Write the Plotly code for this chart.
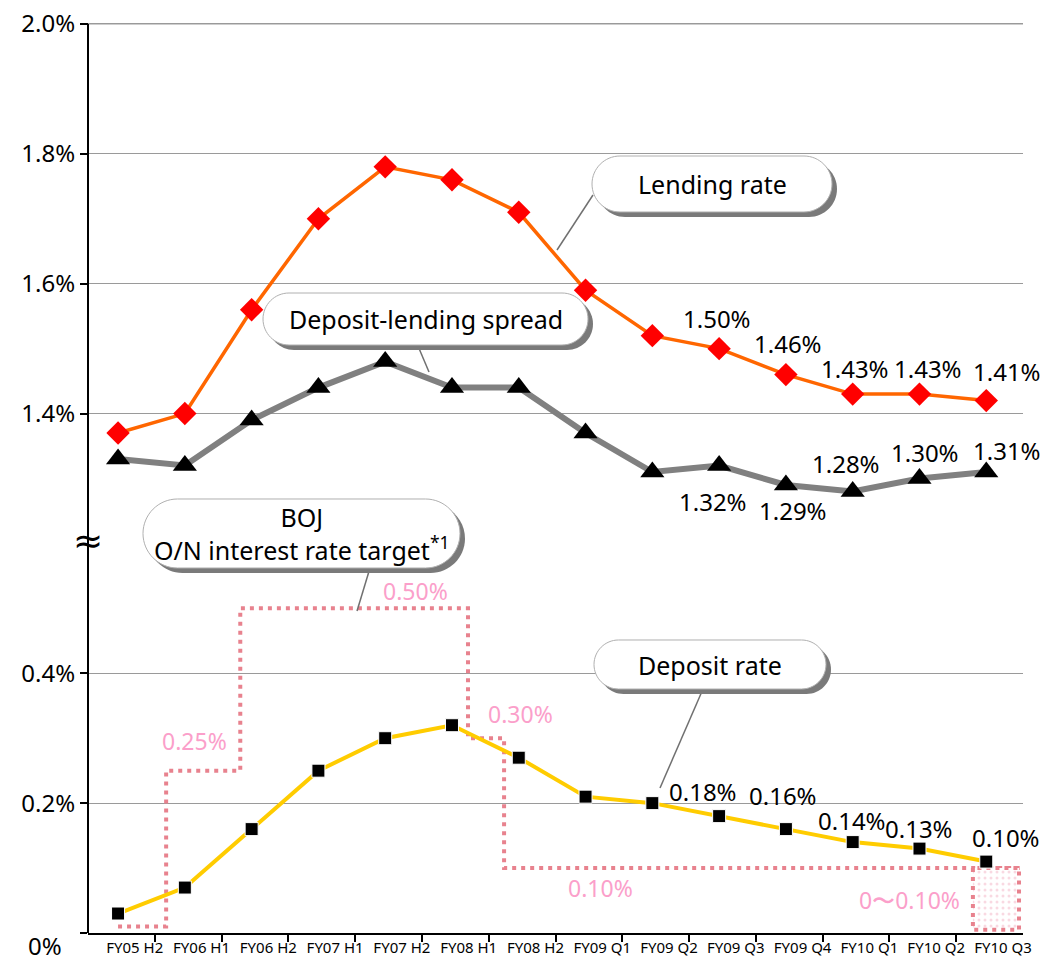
import plotly.graph_objects as go

# ---- data -------------------------------------------------------------
periods = ["FY05 H2", "FY06 H1", "FY06 H2", "FY07 H1", "FY07 H2", "FY08 H1", "FY08 H2",
           "FY09 Q1", "FY09 Q2", "FY09 Q3", "FY09 Q4", "FY10 Q1", "FY10 Q2", "FY10 Q3"]
lending = [1.37, 1.40, 1.56, 1.70, 1.78, 1.76, 1.71, 1.59, 1.52, 1.50, 1.46, 1.43, 1.43, 1.42]
spread = [1.33, 1.32, 1.39, 1.44, 1.48, 1.44, 1.44, 1.37, 1.31, 1.32, 1.29, 1.28, 1.30, 1.31]
deposit = [0.03, 0.07, 0.16, 0.25, 0.30, 0.32, 0.27, 0.21, 0.20, 0.18, 0.16, 0.14, 0.13, 0.11]

lending_labels = ["", "", "", "", "", "", "", "", "", "1.50%", "1.46%", "1.43%", "1.43%", "1.41%"]
spread_labels = ["", "", "", "", "", "", "", "", "", "1.32%", "1.29%", "1.28%", "1.30%", "1.31%"]
deposit_labels = ["", "", "", "", "", "", "", "", "", "0.18%", "0.16%", "0.14%", "0.13%", "0.10%"]

# BOJ overnight target: step change points (in period units) and levels
boj_change = [0.0, 0.72, 1.83, 5.24, 5.78, 13.5]
boj_rate = [0.01, 0.25, 0.50, 0.30, 0.10, 0.10]
boj_zero_span = [12.8, 13.49]
boj_zero_range = [0.005, 0.10]

ytick_vals = [0.0, 0.2, 0.4, 1.4, 1.6, 1.8, 2.0]

# axis break: values above the break are drawn shifted down by BREAK
BREAK = 0.6
Y_TOP = 1.42  # a little headroom so the 2.0% tick is inside the range

# ---- styling ----------------------------------------------------------
FONT = "Noto Sans"
ORANGE = "#ff6600"
RED = "#ff0000"
GREY = "#808080"
GOLD = "#ffcc00"
GRID = "#9a9a9a"
PINK_LINE = "#e8828e"
PINK_TEXT = "#fb9fca"

# plot area in page pixels; the page body adds an 8px offset
OFF = 8
PL, PR, PT, PB = 88, 1023, 11, 933
W, H = 1050 - OFF, 961 - OFF


def fx(px):
    return (px - PL) / (PR - PL)


def fy(py):
    return (PB - py) / (PB - PT)


def shifted(vals):
    return [round(v - BREAK, 6) for v in vals]


def pill_path(x0, y0, x1, y1):
    r = (y1 - y0) / 2
    k = 0.5523 * r
    pts = [
        ("M", [(x0 + r, y0)]),
        ("L", [(x1 - r, y0)]),
        ("C", [(x1 - r + k, y0), (x1, y0 + r - k), (x1, y0 + r)]),
        ("C", [(x1, y0 + r + k), (x1 - r + k, y1), (x1 - r, y1)]),
        ("L", [(x0 + r, y1)]),
        ("C", [(x0 + r - k, y1), (x0, y0 + r + k), (x0, y0 + r)]),
        ("C", [(x0, y0 + r - k), (x0 + r - k, y0), (x0 + r, y0)]),
    ]
    s = ""
    for cmd, ps in pts:
        s += cmd + " ".join(f"{fx(px):.5f},{fy(py):.5f}" for px, py in ps)
    return s + "Z"


def paper_text(text, px, py, size=24, color="black", family=FONT):
    return dict(x=fx(px), y=fy(py), xref="paper", yref="paper", text=text,
                showarrow=False, xanchor="center", yanchor="middle",
                font=dict(size=size, color=color, family=family))


fig = go.Figure()

# BOJ target (dotted step line)
fig.add_trace(go.Scatter(
    x=boj_change, y=boj_rate, mode="lines", line_shape="hv",
    line=dict(color=PINK_LINE, width=4, dash="4px,5px"), hoverinfo="skip"))
zx0, zx1 = boj_zero_span
zy0, zy1 = boj_zero_range
fig.add_trace(go.Scatter(
    x=[zx0, zx0, zx1, zx1, zx0], y=[zy1, zy0, zy0, zy1, zy1], mode="lines",
    fill="toself", fillcolor="rgba(0,0,0,0)",
    fillpattern=dict(shape=".", fgcolor="#f4b3c6", bgcolor="white", size=6, solidity=0.2),
    line=dict(color=PINK_LINE, width=4, dash="4px,5px"), hoverinfo="skip"))

x = list(range(len(periods)))

fig.add_trace(go.Scatter(
    x=x, y=shifted(spread), mode="lines+markers",
    line=dict(color=GREY, width=6),
    marker=dict(symbol="triangle-up", size=21, color="black")))
fig.add_trace(go.Scatter(
    x=x, y=shifted(lending), mode="lines+markers",
    line=dict(color=ORANGE, width=3.5),
    marker=dict(symbol="diamond", size=18, color=RED)))
fig.add_trace(go.Scatter(
    x=x, y=deposit, mode="lines+markers",
    line=dict(color=GOLD, width=4),
    marker=dict(symbol="square", size=13, color="black", line=dict(color="white", width=1))))

annotations = []

# data labels (pixel offsets from each marker)
lend_off = [(0, 0)] * 9 + [(-2, 30), (2, 31), (2, 26), (9, 26), (21, 29)]
spr_off = [(0, 0)] * 9 + [(-6, -36), (7, -26), (-7, 28), (6, 26), (21, 22)]
dep_off = [(0, 0)] * 9 + [(-16, 25), (-3, 34), (-1, 22), (0, 20), (20, 24)]
for vals, labels, offs, sh in [(lending, lending_labels, lend_off, BREAK),
                               (spread, spread_labels, spr_off, BREAK),
                               (deposit, deposit_labels, dep_off, 0)]:
    for i, (v, t, (dx, dy)) in enumerate(zip(vals, labels, offs)):
        if not t:
            continue
        annotations.append(dict(
            x=i, y=v - sh, xref="x", yref="y", text=t, showarrow=False,
            xanchor="center", yanchor="middle",
            xshift=dx, yshift=dy, font=dict(size=24, color="black", family=FONT)))

# BOJ level labels
for t, px, py in [("0.25%", 194, 741), ("0.50%", 415, 591), ("0.30%", 520, 714),
                  ("0.10%", 600, 888), ("0〜0.10%", 909, 900)]:
    annotations.append(paper_text(t, px, py, size=23, color=PINK_TEXT))

# 0% label and axis break symbol
annotations.append(paper_text("0%", 45, 945))
annotations.append(paper_text("≈", 88, 540, size=36, family="DejaVu Sans"))

# callouts: (text, x0, y0, x1, y1, pointer from, pointer to)
callouts = [
    ("Lending rate", 592, 156, 832, 212, (593, 195), (557, 250)),
    ("Deposit-lending spread", 263, 293, 588, 345, (418, 346), (429, 372)),
    ("BOJ<br>O/N interest rate target<sup>*1</sup>", 143, 499, 460, 568, (370, 568), (357, 611)),
    ("Deposit rate", 594, 640, 826, 689, (703, 689), (660, 788)),
]
top = round(ytick_vals[-1] - BREAK, 6)
shapes = [
    # top gridline, tick and y axis line, stopping at the 2.0% tick
    dict(type="line", xref="paper", yref="y", x0=0, x1=1, y0=top, y1=top,
         line=dict(color=GRID, width=1), layer="below"),
    dict(type="line", xref="paper", yref="y", x0=fx(81), x1=0, y0=top, y1=top,
         line=dict(color="black", width=2)),
    dict(type="line", xref="paper", yref="y", x0=0, x1=0, y0=0, y1=top,
         line=dict(color="black", width=2)),
]
for text, x0, y0, x1, y1, p0, p1 in callouts:
    shapes.append(dict(type="line", xref="paper", yref="paper",
                       x0=fx(p0[0]), y0=fy(p0[1]), x1=fx(p1[0]), y1=fy(p1[1]),
                       line=dict(color="#707070", width=1.5)))
    shapes.append(dict(type="path", xref="paper", yref="paper",
                       path=pill_path(x0 + 5, y0 + 5, x1 + 5, y1 + 5),
                       fillcolor="#7a7a7a", line=dict(width=0)))
    shapes.append(dict(type="path", xref="paper", yref="paper",
                       path=pill_path(x0, y0, x1, y1),
                       fillcolor="white", line=dict(color="#b0b0b0", width=1)))
    annotations.append(paper_text(text, (x0 + x1) / 2, (y0 + y1) / 2, size=25))

fig.update_layout(
    width=W, height=H,
    margin=dict(l=PL - OFF, r=W - (PR - OFF), t=PT - OFF, b=H - (PB - OFF)),
    paper_bgcolor="white", plot_bgcolor="white",
    font=dict(family=FONT, color="black"),
    showlegend=False,
    shapes=shapes,
    annotations=annotations,
    xaxis=dict(
        range=[-0.45, 13.55], showgrid=False, zeroline=False, automargin=False,
        tickvals=[i + 0.25 for i in x], ticktext=periods, ticks="",
        tickfont=dict(size=15, color="black", family=FONT),
        showline=True, linecolor="black", linewidth=2,
        minor=dict(tickvals=[i + 0.55 for i in x[:-1]], ticks="outside",
                   ticklen=7, tickcolor="black", tickwidth=2),
    ),
    yaxis=dict(
        range=[0, Y_TOP], zeroline=False, automargin=False,
        tickvals=[round(v - BREAK, 6) if v > 1 else v for v in ytick_vals],
        ticktext=["" if v == 0 else f"{v:.1f}%" for v in ytick_vals],
        ticklabeloverflow="allow",
        ticks="outside", ticklen=7, tickcolor="black", tickwidth=2,
        tickfont=dict(size=24, color="black", family=FONT),
        showline=False,
        showgrid=True, gridcolor=GRID, gridwidth=1,
    ),
)

fig.write_html("out.html")
